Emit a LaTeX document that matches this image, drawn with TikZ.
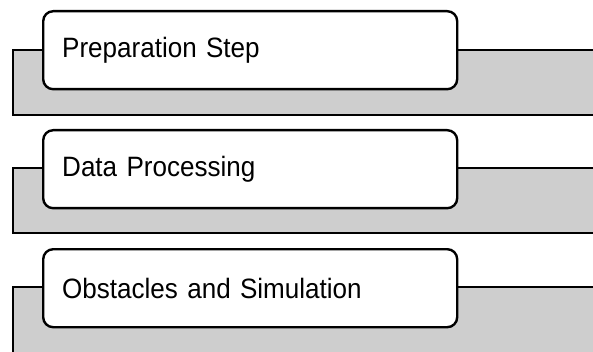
\documentclass[tikz,border=0pt]{standalone}
\usepackage{fontspec}
\newfontfamily\stepfont[FakeStretch=0.93]{Liberation Sans}
\definecolor{bandgray}{RGB}{206,206,206}

\begin{document}
\begin{tikzpicture}[x=1pt, y=-1pt,
band/.style={draw=black, line width=2.4pt, fill=bandgray},
stepbox/.style={rectangle, rounded corners=10pt, draw=black, line width=2.4pt, fill=white,
	minimum width=414pt, minimum height=78pt, text width=376pt, inner xsep=19pt,
	align=left, anchor=north west, font=\stepfont\fontsize{28}{32}\selectfont},
]
\useasboundingbox (0,0) rectangle (593,352);
\clip (0,0) rectangle (593,352);
\draw[band] (13,50) rectangle (610,115);
\draw[band] (13,168) rectangle (610,233);
\draw[band] (13,287) rectangle (610,370);
\node (prep) [stepbox] at (42,10) {Preparation Step};
\node (data) [stepbox] at (42,129) {Data Processing};
\node (obst) [stepbox] at (42,248) {Obstacles and Simulation};
\end{tikzpicture}
\end{document}
